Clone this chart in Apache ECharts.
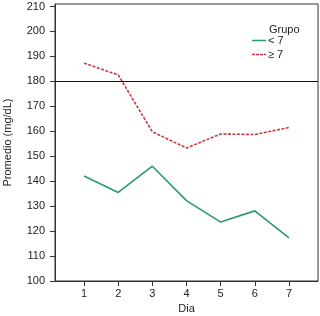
<!DOCTYPE html>
<html>
<head>
<meta charset="utf-8">
<script src="https://cdn.jsdelivr.net/npm/echarts@6/dist/echarts.min.js"></script>
<style>
  html, body { margin: 0; padding: 0; background: #fff; }
  #chart { width: 320px; height: 316px; }
</style>
</head>
<body>
<div id="chart"></div>
<script>
// Data
var days = [1, 2, 3, 4, 5, 6, 7];
var lowGroup = [142.1, 135.5, 146.0, 132.2, 123.6, 128.1, 117.3];   // < 7
var highGroup = [187.3, 182.6, 159.8, 153.3, 158.9, 158.7, 161.5];  // >= 7
var yTicks = [100, 110, 120, 130, 140, 150, 160, 170, 180, 190, 200, 210];
var refLine = 180;

var font = 'Liberation Sans, Arial, sans-serif';
var ink = '#222';

function pairs(vals) {
  return days.map(function (d, i) { return [d, vals[i]]; });
}

var chart = echarts.init(document.getElementById('chart'), null, { renderer: 'canvas' });

chart.setOption({
  animation: false,
  textStyle: { fontFamily: font },
  grid: {
    left: 55, right: 2, top: 4, bottom: 35,
    containLabel: false, outerBoundsMode: 'none',
    show: true, borderColor: '#333', borderWidth: 1, backgroundColor: 'transparent'
  },
  title: {
    text: 'Grupo', left: 264, top: 19,
    textStyle: { fontSize: 11, fontWeight: 'normal', color: ink, fontFamily: font }
  },
  legend: {
    orient: 'vertical', left: 247, top: 30,
    itemWidth: 14, itemHeight: 8, itemGap: 3,
    textStyle: { fontSize: 11, color: ink, fontFamily: font, padding: [0, 0, 0, -3] },
    data: [
      { name: '< 7', icon: 'path://M0,0 L14,0 L14,1.5 L0,1.5 Z' },
      { name: '\u2265 7', icon: 'path://M0,0 L3,0 L3,1.5 L0,1.5 Z M4,0 L7,0 L7,1.5 L4,1.5 Z M8,0 L11,0 L11,1.5 L8,1.5 Z M12,0 L14,0 L14,1.5 L12,1.5 Z' }
    ]
  },
  xAxis: {
    type: 'value', min: 0.15, max: 7.85,
    name: 'Dia', nameLocation: 'middle', nameGap: 22,
    nameTextStyle: { fontSize: 11, color: ink },
    axisLine: { show: true, lineStyle: { color: '#333' } },
    axisTick: { show: true, length: 5, customValues: days, lineStyle: { color: '#333' } },
    axisLabel: { customValues: days, fontSize: 11, color: ink, margin: 7 },
    splitLine: { show: false }
  },
  yAxis: {
    type: 'value', min: 100, max: 211,
    name: 'Promedio (mg/dL)', nameLocation: 'middle', nameGap: 42,
    nameTextStyle: { fontSize: 11, color: ink },
    axisLine: { show: true, lineStyle: { color: '#333' } },
    axisTick: { show: true, length: 5, customValues: yTicks, lineStyle: { color: '#333' } },
    axisLabel: { customValues: yTicks, fontSize: 11, color: ink, margin: 10 },
    splitLine: { show: false }
  },
  series: [
    {
      name: '< 7', type: 'line', data: pairs(lowGroup),
      symbol: 'none', color: '#2b9a6b',
      lineStyle: { width: 1.6, color: '#2b9a6b' }
    },
    {
      name: '\u2265 7', type: 'line', data: pairs(highGroup),
      symbol: 'none', color: '#c23a3f',
      lineStyle: { width: 1.6, type: [3, 1.5], color: '#c23a3f' },
      markLine: {
        silent: true, symbol: 'none', label: { show: false },
        lineStyle: { color: '#111', width: 1, type: 'solid' },
        data: [{ yAxis: refLine }]
      }
    }
  ]
});
</script>
</body>
</html>
